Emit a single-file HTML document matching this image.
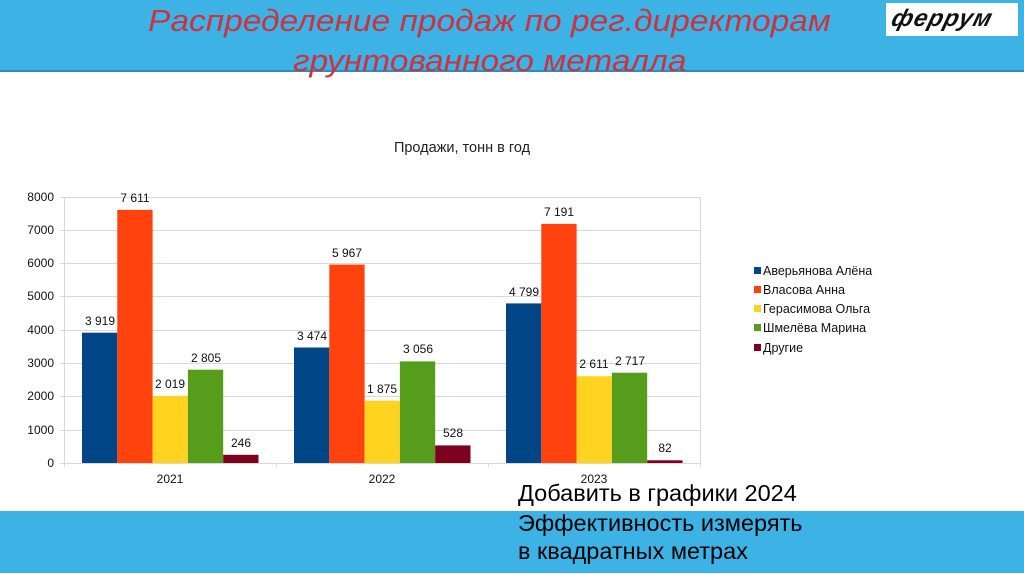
<!DOCTYPE html>
<html><head><meta charset="utf-8"><style>
body{margin:0;width:1024px;height:574px;overflow:hidden;background:#fff;font-family:"Liberation Sans","DejaVu Sans",sans-serif;position:relative}
.hb{position:absolute;left:0;top:0;width:1024px;height:70px;background:#3db2e4}
.hl{position:absolute;left:0;top:70px;width:1024px;height:2px;background:#2a8fc0}
.bb{position:absolute;left:0;top:511px;width:1024px;height:62px;background:#3db2e4}
.t{position:absolute;color:#cc3340;font-style:italic;font-size:31px;white-space:nowrap;transform-origin:0 0;transform:scaleX(1.08)}
.bt{position:absolute;left:518px;font-size:23.5px;color:#000;white-space:nowrap}
</style></head><body>
<div class="hb"></div><div class="hl"></div><div class="bb"></div>
<div class="t" style="left:148px;top:3px">Распределение продаж по рег.директорам</div>
<div class="t" style="left:293px;top:43px">грунтованного металла</div>
<div style="position:absolute;left:886px;top:3px;width:132px;height:33px;background:#fff"></div>
<div style="position:absolute;left:892px;top:5px;font:italic bold 24px 'Liberation Sans',sans-serif;color:#111;letter-spacing:1px;transform:skewX(-15deg)">феррум</div>
<svg style="position:absolute;left:0;top:0" width="1024" height="574" font-family="Liberation Sans, sans-serif">
<text x="462" y="152" font-size="14.5" text-anchor="middle" fill="#222">Продажи, тонн в год</text>
<g stroke="#d8d8d8" stroke-width="1">
<line x1="60" x2="700" y1="197.5" y2="197.5"/><line x1="60" x2="700" y1="230.5" y2="230.5"/>
<line x1="60" x2="700" y1="263.5" y2="263.5"/><line x1="60" x2="700" y1="296.5" y2="296.5"/>
<line x1="60" x2="700" y1="330.5" y2="330.5"/><line x1="60" x2="700" y1="363.5" y2="363.5"/>
<line x1="60" x2="700" y1="396.5" y2="396.5"/><line x1="60" x2="700" y1="430.5" y2="430.5"/>
<line x1="60" x2="700" y1="463.5" y2="463.5"/><line x1="64.5" x2="64.5" y1="197" y2="467"/>
<line x1="700.5" x2="700.5" y1="197" y2="467"/>
<line x1="276.5" x2="276.5" y1="463" y2="467"/><line x1="488.5" x2="488.5" y1="463" y2="467"/>
</g>
<g font-size="12" fill="#111" text-anchor="end">
<text x="54" y="201">8000</text><text x="54" y="234">7000</text><text x="54" y="267">6000</text>
<text x="54" y="300">5000</text><text x="54" y="334">4000</text><text x="54" y="367">3000</text>
<text x="54" y="400">2000</text><text x="54" y="434">1000</text><text x="54" y="467">0</text>
</g>
<g font-size="12" fill="#111" text-anchor="middle">
<text x="170" y="483">2021</text><text x="382" y="483">2022</text><text x="594" y="483">2023</text>
</g>
<rect x="82" y="332.7" width="35.3" height="130.3" fill="#004586"/>
<rect x="117.3" y="209.9" width="35.3" height="253.1" fill="#ff420e"/>
<rect x="152.6" y="395.9" width="35.3" height="67.1" fill="#ffd320"/>
<rect x="187.9" y="369.7" width="35.3" height="93.3" fill="#579d1c"/>
<rect x="223.2" y="454.8" width="35.3" height="8.2" fill="#7e0021"/>
<rect x="294" y="347.5" width="35.3" height="115.5" fill="#004586"/>
<rect x="329.3" y="264.6" width="35.3" height="198.4" fill="#ff420e"/>
<rect x="364.6" y="400.7" width="35.3" height="62.3" fill="#ffd320"/>
<rect x="399.9" y="361.4" width="35.3" height="101.6" fill="#579d1c"/>
<rect x="435.2" y="445.4" width="35.3" height="17.6" fill="#7e0021"/>
<rect x="506" y="303.4" width="35.3" height="159.6" fill="#004586"/>
<rect x="541.3" y="223.9" width="35.3" height="239.1" fill="#ff420e"/>
<rect x="576.6" y="376.2" width="35.3" height="86.8" fill="#ffd320"/>
<rect x="611.9" y="372.7" width="35.3" height="90.3" fill="#579d1c"/>
<rect x="647.2" y="460.3" width="35.3" height="2.7" fill="#7e0021"/>
<g font-size="12" fill="#111" text-anchor="middle">
<text x="100" y="325">3 919</text><text x="135" y="202">7 611</text><text x="170" y="388">2 019</text><text x="206" y="362">2 805</text><text x="241" y="447">246</text>
<text x="312" y="340">3 474</text><text x="347" y="257">5 967</text><text x="382" y="393">1 875</text><text x="418" y="353">3 056</text><text x="453" y="437">528</text>
<text x="524" y="296">4 799</text><text x="559" y="216">7 191</text><text x="594" y="368">2 611</text><text x="630" y="365">2 717</text><text x="665" y="452">82</text>
</g>
<g font-size="12.5" fill="#111">
<rect x="754" y="267" width="7" height="7" fill="#004586"/><text x="763" y="275">Аверьянова Алёна</text>
<rect x="754" y="286" width="7" height="7" fill="#ff420e"/><text x="763" y="294">Власова Анна</text>
<rect x="754" y="305" width="7" height="7" fill="#ffd320"/><text x="763" y="313">Герасимова Ольга</text>
<rect x="754" y="324" width="7" height="7" fill="#579d1c"/><text x="763" y="332">Шмелёва Марина</text>
<rect x="754" y="344" width="7" height="7" fill="#7e0021"/><text x="763" y="352">Другие</text>
</g>
</svg>
<div class="bt" style="top:480px">Добавить в графики 2024</div>
<div class="bt" style="top:510px">Эффективность измерять</div>
<div class="bt" style="top:538px">в квадратных метрах</div>
</body></html>
